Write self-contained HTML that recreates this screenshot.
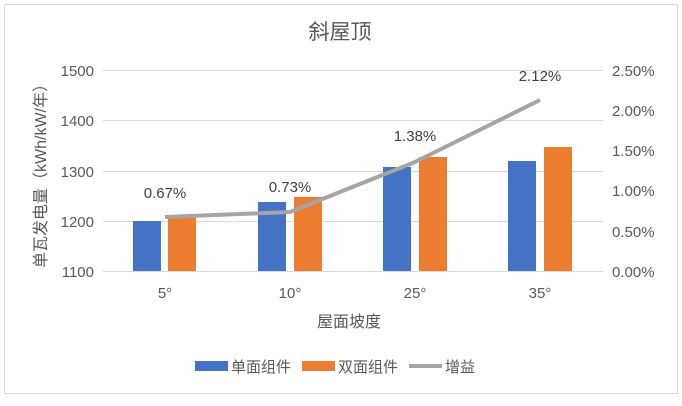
<!DOCTYPE html>
<html><head><meta charset="utf-8"><style>
html,body{margin:0;padding:0;background:#fff;}
text{font-family:"Liberation Sans","Noto Sans CJK SC",sans-serif;}
</style></head><body>
<svg width="682" height="401" xmlns="http://www.w3.org/2000/svg">
<rect x="4.5" y="4.5" width="673" height="389" fill="#fff" stroke="#d9d9d9"/>
<text x="340" y="39" font-size="21" fill="#595959" text-anchor="middle">斜屋顶</text>
<g stroke="#d9d9d9" stroke-width="1">
<line x1="103" y1="70.5" x2="603" y2="70.5"/>
<line x1="103" y1="120.5" x2="603" y2="120.5"/>
<line x1="103" y1="171.5" x2="603" y2="171.5"/>
<line x1="103" y1="221.5" x2="603" y2="221.5"/>
<line x1="103" y1="271.5" x2="603" y2="271.5"/>
</g>
<g font-size="15" fill="#595959" text-anchor="end">
<text x="94" y="76">1500</text><text x="94" y="126">1400</text><text x="94" y="177">1300</text><text x="94" y="227">1200</text><text x="94" y="277">1100</text>
</g>
<g font-size="15" fill="#595959" text-anchor="start">
<text x="612" y="76">2.50%</text><text x="612" y="116">2.00%</text><text x="612" y="156">1.50%</text><text x="612" y="196">1.00%</text><text x="612" y="237">0.50%</text><text x="612" y="277">0.00%</text>
</g>
<text transform="translate(46,172) rotate(-90)" font-size="16" fill="#595959" text-anchor="middle">单瓦发电量（kWh/kW/年）</text>
<g fill="#4472c4">
<rect x="133" y="221" width="28" height="50"/>
<rect x="258" y="202" width="28" height="69"/>
<rect x="383" y="167" width="28" height="104"/>
<rect x="508" y="161" width="28" height="110"/>
</g>
<g fill="#ed7d31">
<rect x="168" y="217" width="28" height="54"/>
<rect x="294" y="197" width="28" height="74"/>
<rect x="419" y="157" width="28" height="114"/>
<rect x="544" y="147" width="28" height="124"/>
</g>
<polyline points="165,217 290,212 415,162 540,100" fill="none" stroke="#a5a5a5" stroke-width="4" stroke-linejoin="round"/>
<g font-size="15" fill="#404040" text-anchor="middle">
<text x="165" y="198">0.67%</text><text x="290" y="192">0.73%</text><text x="415" y="141">1.38%</text><text x="540" y="81">2.12%</text>
</g>
<g font-size="15" fill="#595959" text-anchor="middle">
<text x="165" y="298">5°</text><text x="290" y="298">10°</text><text x="415" y="298">25°</text><text x="540" y="298">35°</text>
</g>
<text x="349" y="327" font-size="16" fill="#595959" text-anchor="middle">屋面坡度</text>
<rect x="195" y="361" width="33" height="10" fill="#4472c4"/>
<text x="231" y="372" font-size="15" fill="#595959">单面组件</text>
<rect x="302" y="361" width="33" height="10" fill="#ed7d31"/>
<text x="338" y="372" font-size="15" fill="#595959">双面组件</text>
<line x1="409" y1="366" x2="442" y2="366" stroke="#a5a5a5" stroke-width="4"/>
<text x="445" y="372" font-size="15" fill="#595959">增益</text>
</svg>
</body></html>
